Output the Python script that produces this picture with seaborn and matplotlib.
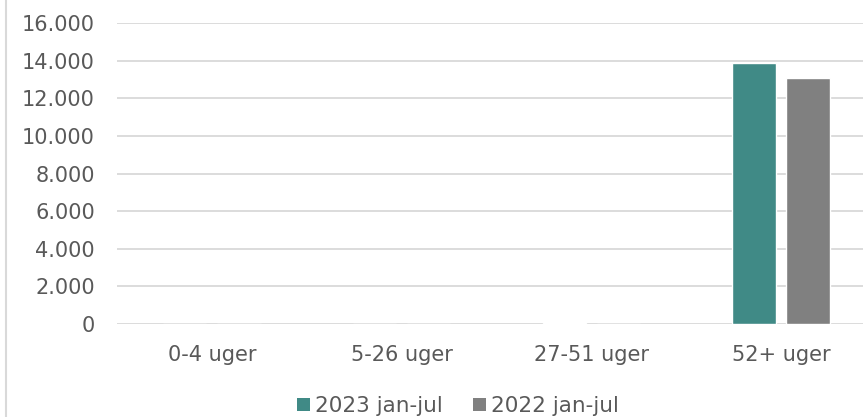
import matplotlib
matplotlib.use("Agg")
import matplotlib.pyplot as plt
import seaborn as sns
import pandas as pd
from matplotlib.ticker import FuncFormatter
from matplotlib.lines import Line2D
from matplotlib.patches import Patch

categories = ["0-4 uger", "5-26 uger", "27-51 uger", "52+ uger"]
series_names = ["2023 jan-jul", "2022 jan-jul"]
values_2023 = [0, 0, 40, 13850]
values_2022 = [0, 0, 0, 13080]
y_ticks = [0, 2000, 4000, 6000, 8000, 10000, 12000, 14000, 16000]

colors = ["#408A86", "#808080"]
text_color = "#595959"

df = pd.DataFrame({
    "kategori": categories * 2,
    "serie": [series_names[0]] * 4 + [series_names[1]] * 4,
    "antal": values_2023 + values_2022,
})

sns.set_theme(style="white")
plt.rcParams["font.family"] = ["DejaVu Sans"]

W, H = 863, 417
fig = plt.figure(figsize=(W / 100, H / 100), dpi=100)
# plot area: left edge at x=117, category spacing ~190 px, extends past right edge
left, right = 117, 117 + 4 * 189.7
top, bottom = 23, 324
ax = fig.add_axes([left / W, 1 - bottom / H, (right - left) / W, (bottom - top) / H])

sns.barplot(data=df, x="kategori", y="antal", hue="serie", order=categories,
            hue_order=series_names, palette=colors, width=0.57, gap=0.2,
            saturation=1, ax=ax, legend=False)

ax.set_ylim(0, 16000)
ax.set_yticks(y_ticks)
ax.yaxis.set_major_formatter(FuncFormatter(lambda v, p: f"{int(v):,}".replace(",", ".")))
ax.grid(axis="y", color="#D9D9D9", linewidth=1.3)
ax.set_axisbelow(True)
for s in ax.spines.values():
    s.set_visible(False)
ax.set_xlabel("")
ax.set_ylabel("")
ax.tick_params(axis="y", length=0, pad=16, labelsize=15, labelcolor=text_color)
ax.tick_params(axis="x", length=0, pad=15, labelsize=15, labelcolor=text_color)
ax.set_xlim(-0.5, 3.5)

handles = [Patch(facecolor=c, edgecolor="none") for c in colors]
fig.legend(handles, series_names, loc="center", bbox_to_anchor=(458 / W, 1 - 406 / H),
           ncol=2, frameon=False, fontsize=15.5, labelcolor=text_color,
           handlelength=0.6, handleheight=0.6, handletextpad=0.25, columnspacing=1.4)

fig.add_artist(Line2D([5.5 / W, 5.5 / W], [0, 1], color="#D9D9D9", linewidth=1.5,
                      transform=fig.transFigure))

fig.savefig("out.png", dpi=100)
